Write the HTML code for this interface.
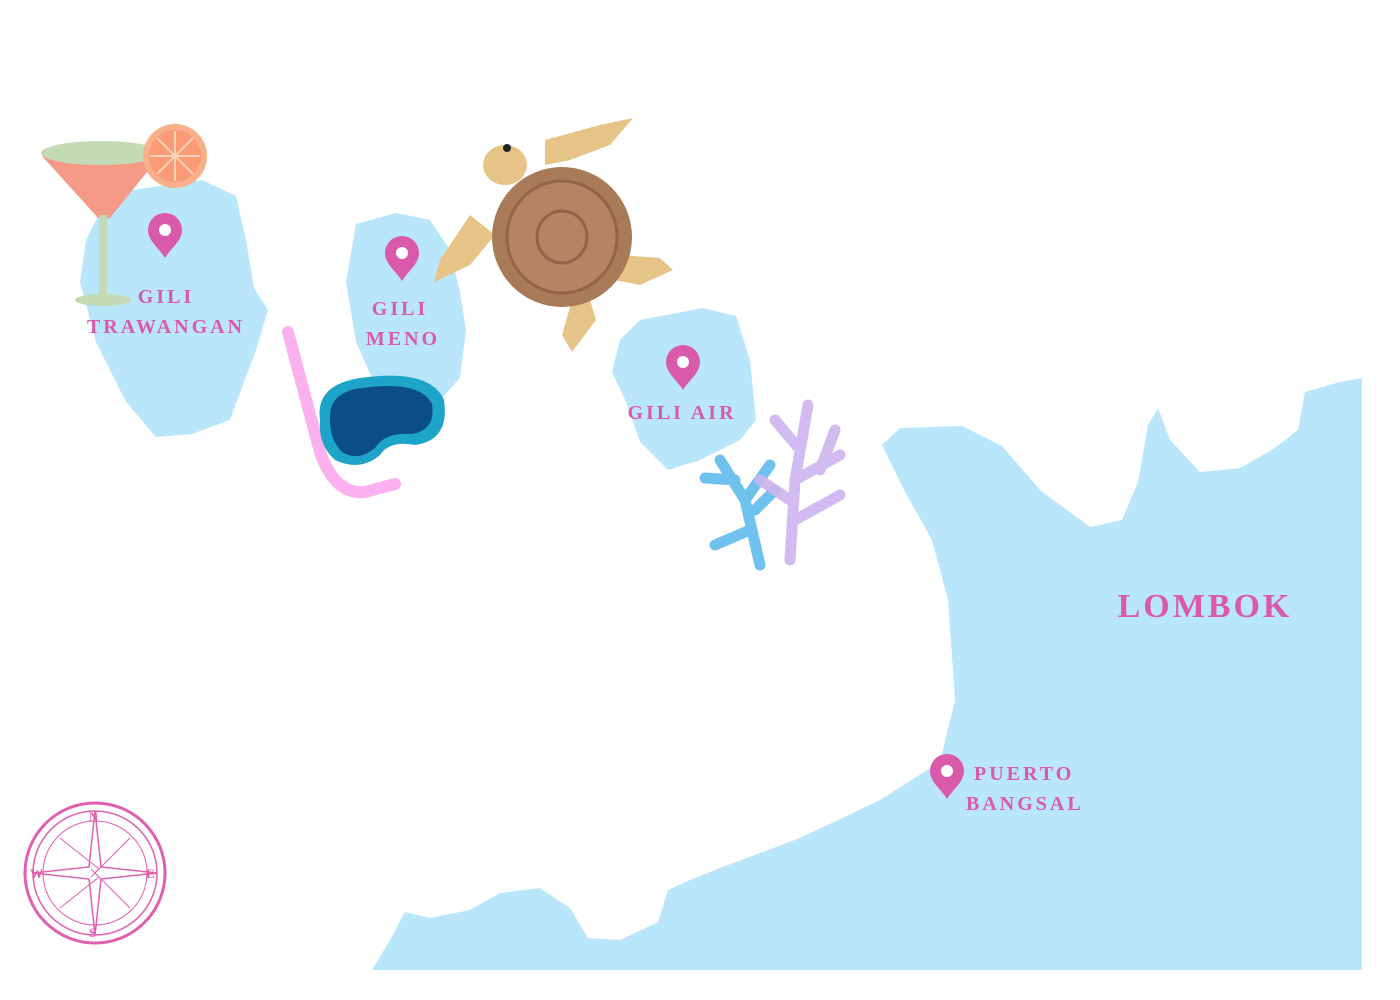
<!DOCTYPE html>
<html><head><meta charset="utf-8"><style>
html,body{margin:0;padding:0;background:#fff}
svg{display:block}
text{font-family:"Liberation Serif",serif;font-weight:bold;fill:#d95aab;letter-spacing:3px}
</style></head><body>
<svg width="1400" height="1000" viewBox="0 0 1400 1000" xmlns="http://www.w3.org/2000/svg">
<defs>
<g id="pin"><path d="M0,22 C-6,12 -17,5 -17,-6 A17,17 0 0 1 17,-6 C17,5 6,12 0,22Z" fill="#d95aab"/><circle cx="0" cy="-6" r="6" fill="#fff"/></g>
</defs>
<!-- Lombok -->
<path fill="#bae6fc" d="M372,970 L390,940 L405,912 L430,918 L470,910 L500,893 L540,888 L570,908 L588,938 L620,940 L658,922 L668,890 L690,880 L720,868 L800,838 L880,800 L940,762 L955,700 L948,600 L932,540 L905,492 L882,445 L900,428 L962,426 L1002,446 L1040,490 L1090,527 L1122,520 L1138,482 L1148,425 L1158,408 L1170,440 L1200,472 L1240,468 L1272,450 L1298,430 L1305,392 L1340,382 L1362,378 L1362,970 Z"/>
<!-- Gili Trawangan -->
<path fill="#bae6fc" d="M100,212 L132,190 L202,180 L236,196 L246,240 L254,288 L268,310 L256,350 L238,398 L230,420 L192,434 L156,437 L126,402 L96,342 L80,282 L86,240 Z"/>
<!-- Gili Meno -->
<path fill="#bae6fc" d="M356,224 L396,213 L430,220 L450,250 L460,292 L466,330 L460,378 L440,400 L380,396 L356,342 L346,282 Z"/>
<!-- Gili Air -->
<path fill="#bae6fc" d="M640,320 L702,308 L736,316 L750,360 L756,420 L740,440 L700,460 L668,470 L640,442 L626,402 L612,372 L620,340 Z"/>

<!-- cocktail -->
<g>
<path d="M42,156 L160,156 L110,218 L98,218 Z" fill="#f59a86"/>
<ellipse cx="101" cy="153" rx="60" ry="12" fill="#c4d9b5"/>
<rect x="99" y="215" width="8" height="80" fill="#c4d9b5"/>
<ellipse cx="103" cy="300" rx="28" ry="6" fill="#c4d9b5"/>
<circle cx="175" cy="156" r="32" fill="#f9b08a"/>
<circle cx="175" cy="156" r="26" fill="#f99c76"/>
<g stroke="#fcd1b5" stroke-width="2"><line x1="150" y1="156" x2="200" y2="156"/><line x1="175" y1="131" x2="175" y2="181"/><line x1="157" y1="138" x2="193" y2="174"/><line x1="193" y1="138" x2="157" y2="174"/></g>
</g>
<use href="#pin" x="165" y="236"/>
<text x="166" y="303" text-anchor="middle" font-size="20">GILI</text>
<text x="166" y="333" text-anchor="middle" font-size="20">TRAWANGAN</text>

<!-- snorkel -->
<path d="M288,332 L320,452 Q335,495 365,492 L395,484" fill="none" stroke="#fbb0f0" stroke-width="12" stroke-linecap="round"/>
<path d="M320,420 Q315,385 360,378 Q430,368 444,400 Q450,440 415,445 Q390,440 380,455 Q360,472 335,460 Q318,445 320,420Z" fill="#1ea3c9"/>
<path d="M330,420 Q328,392 362,388 Q420,380 432,404 Q436,430 412,434 Q385,432 375,448 Q358,462 342,452 Q330,440 330,420Z" fill="#0b4d86"/>

<!-- turtle -->
<g>
<path d="M545,165 L545,140 L600,125 L633,118 L610,145 L570,160 Z" fill="#e6c488"/>
<path d="M470,215 L440,260 L434,282 L470,265 L495,235 Z" fill="#e6c488"/>
<path d="M620,255 L660,258 L673,270 L640,285 L615,280 Z" fill="#e6c488"/>
<path d="M572,300 L562,335 L572,352 L596,320 L590,300 Z" fill="#e6c488"/>
<ellipse cx="505" cy="165" rx="22" ry="20" fill="#e6c488"/>
<circle cx="507" cy="148" r="4" fill="#222"/>
<ellipse cx="562" cy="237" rx="70" ry="70" fill="#a97a57"/>
<ellipse cx="562" cy="237" rx="55" ry="56" fill="#b58462" stroke="#93634a" stroke-width="3"/>
<ellipse cx="562" cy="237" rx="25" ry="26" fill="none" stroke="#93634a" stroke-width="3"/>
</g>
<use href="#pin" x="402" y="259"/>
<text x="400" y="315" text-anchor="middle" font-size="20">GILI</text>
<text x="403" y="345" text-anchor="middle" font-size="20">MENO</text>

<use href="#pin" x="683" y="368"/>
<text x="682" y="419" text-anchor="middle" font-size="20">GILI AIR</text>

<!-- coral -->
<g fill="none" stroke-linecap="round">
<g stroke="#6fc1ee" stroke-width="11">
<path d="M760,565 L745,500 L720,460"/><path d="M745,500 L770,465"/><path d="M750,530 L715,545"/><path d="M735,480 L705,478"/><path d="M755,510 L775,490"/>
</g>
<g stroke="#cdb4ef" stroke-width="11" opacity="0.9">
<path d="M790,560 L795,480 L808,405"/><path d="M795,480 L840,455"/><path d="M800,450 L775,420"/><path d="M795,520 L840,495"/><path d="M790,500 L760,480"/><path d="M820,470 L835,430"/>
</g>
</g>

<text x="1205" y="617" text-anchor="middle" font-size="34" letter-spacing="5">LOMBOK</text>
<use href="#pin" x="947" y="777"/>
<text x="974" y="780" font-size="20">PUERTO</text>
<text x="966" y="810" font-size="20">BANGSAL</text>

<!-- compass -->
<g transform="translate(95,873)" stroke="#e060b0" fill="none">
<circle r="70" stroke-width="3"/><circle r="62" stroke-width="1.5"/><circle r="52" stroke-width="1"/>
<path d="M0,-62 L6,-6 L62,0 L6,6 L0,62 L-6,6 L-62,0 L-6,-6 Z" stroke-width="1.5"/>
<path d="M-35,-35 L4,-4 M35,-35 L-4,4 M-35,35 L4,4 M35,35 L-4,-4" stroke-width="1"/>
</g>
<g font-size="13" fill="#e060b0"><text x="89" y="821" style="letter-spacing:0;fill:#e060b0">N</text><text x="89" y="937" style="letter-spacing:0;fill:#e060b0">S</text><text x="30" y="878" style="letter-spacing:0;fill:#e060b0">W</text><text x="146" y="878" style="letter-spacing:0;fill:#e060b0">E</text></g>
</svg>
</body></html>
